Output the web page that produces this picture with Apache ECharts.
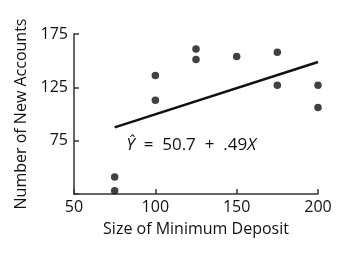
<!DOCTYPE html>
<html>
<head>
<meta charset="utf-8">
<script src="https://cdn.jsdelivr.net/npm/echarts@6/dist/echarts.min.js"></script>
<style>
html, body { margin: 0; padding: 0; background: #fff; }
#chart { width: 355px; height: 257px; }
</style>
</head>
<body>
<div id="chart"></div>
<script>
// data
var deposit = [75, 75, 100, 100, 125, 125, 150, 175, 175, 200, 200];
var accounts = [41, 28, 136, 113, 161, 151, 154, 158, 127, 127, 106];
// fitted line end points (Y = 50.7 + .49X)
var fitX = [75, 200];
var fitY = [87.5, 148.7];
var yTicks = [75, 125, 175];
var xTicks = [50, 100, 150, 200];

var font = 'Open Sans';
var ink = '#111';

var chart = echarts.init(document.getElementById('chart'));

var points = deposit.map(function (x, i) { return [x, accounts[i]]; });
var fit = fitX.map(function (x, i) { return [x, fitY[i]]; });

var option = {
	animation: false,
	grid: { left: 74, right: 37, top: 34, bottom: 63 },
	xAxis: {
		type: 'value',
		min: 50,
		max: 200,
		interval: 50,
		name: 'Size of Minimum Deposit',
		nameLocation: 'middle',
		nameGap: 27,
		nameTextStyle: { fontFamily: font, fontSize: 16, color: ink },
		axisLine: { lineStyle: { color: '#333', width: 1.5 } },
		axisTick: { inside: true, length: 5, lineStyle: { color: '#333', width: 1.5 } },
		axisLabel: {
			fontFamily: font, fontSize: 16, color: ink, margin: 5,
			formatter: function (v) { return xTicks.indexOf(v) >= 0 ? String(v) : ''; }
		},
		splitLine: { show: false }
	},
	yAxis: {
		type: 'value',
		min: 25,
		max: 175,
		interval: 50,
		name: 'Number of New Accounts',
		nameLocation: 'middle',
		nameGap: 41,
		nameTextStyle: { fontFamily: font, fontSize: 16, color: ink },
		axisLine: { lineStyle: { color: '#333', width: 1.5 } },
		axisTick: { inside: true, length: 5, lineStyle: { color: '#333', width: 1.5 } },
		axisLabel: {
			fontFamily: font, fontSize: 16, color: ink, margin: 6,
			formatter: function (v) { return yTicks.indexOf(v) >= 0 ? String(v) : ''; }
		},
		splitLine: { show: false }
	},
	series: [{
		type: 'scatter',
		data: points,
		symbolSize: 7.5,
		itemStyle: { color: '#111' }
	}, {
		type: 'line',
		data: fit,
		showSymbol: false,
		lineStyle: { color: '#111', width: 2.5 },
		markPoint: {
			symbol: 'circle',
			symbolSize: 0,
			data: [{ coord: [122, 71] }],
			label: {
				show: true,
				position: 'inside',
				fontFamily: font,
				fontSize: 17,
				color: ink,
				formatter: '{i|Ŷ}  =  50.7  +  .49{i|X}',
				rich: { i: { fontStyle: 'italic', fontFamily: font, fontSize: 17, color: ink } }
			}
		}
	}]
};

chart.setOption(option);
</script>
</body>
</html>
